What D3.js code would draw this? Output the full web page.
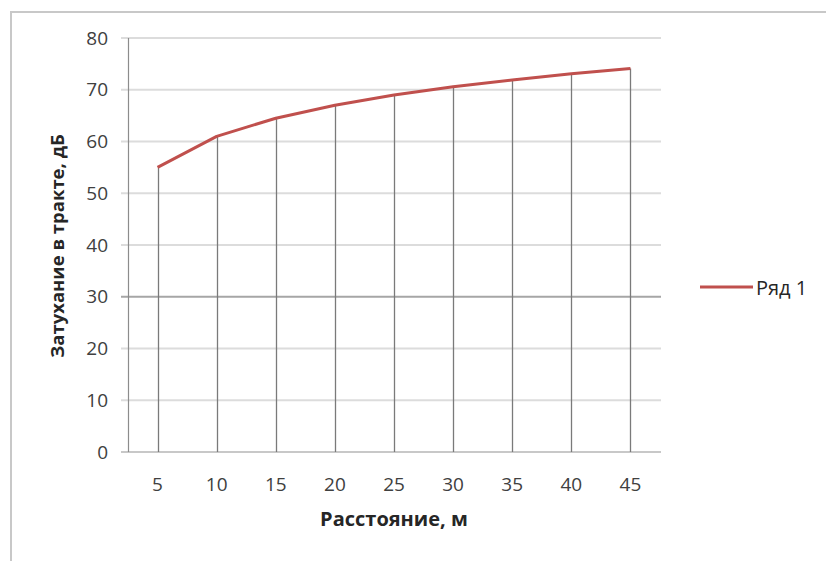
<!DOCTYPE html>
<html><head><meta charset="utf-8">
<script src="https://cdn.jsdelivr.net/npm/d3@7"></script>
<style>body{margin:0;background:#fff}svg{display:block}text{font-family:"Open Sans","Liberation Sans",sans-serif}</style>
</head><body>
<script>
const categories = ["5","10","15","20","25","30","35","40","45"];
const values = [55, 61, 64.5, 67, 69, 70.6, 71.9, 73.1, 74.1];
const yTicks = [0,10,20,30,40,50,60,70,80];
const seriesName = "Ряд 1";
const xTitle = "Расстояние, м";
const yTitle = "Затухание в тракте, дБ";

const W = 826, H = 561;
const svg = d3.select("body").append("svg").attr("width", W).attr("height", H);
// outer frame
svg.append("path").attr("d", `M11,561 V12 H826`).attr("fill","none").attr("stroke","#c8c8c8").attr("stroke-width",2);

const x = d3.scaleBand().domain(categories).range([128, 660]);
const y = d3.scaleLinear().domain([0, 80]).range([452, 38]);

// gridlines
svg.append("g").selectAll("line").data(yTicks).join("line")
  .attr("x1", 121).attr("x2", 661)
  .attr("y1", d => y(d)).attr("y2", d => y(d))
  .attr("stroke", d => d === 30 ? "#a6a6a6" : (d === 0 ? "#c8c8c8" : "#dcdcdc"))
  .attr("stroke-width", 2);

// y axis line
svg.append("line").attr("x1",128.5).attr("x2",128.5).attr("y1",y(80)).attr("y2",y(0)).attr("stroke","#8c8c8c").attr("stroke-width",1.2);

// y tick labels
svg.append("g").selectAll("text").data(yTicks).join("text")
  .attr("x", 108).attr("y", d => y(d)).attr("dy","0.35em")
  .attr("text-anchor","end").attr("font-size",19).attr("fill","#404040").text(d => d);

// x tick labels
svg.append("g").selectAll("text").data(categories).join("text")
  .attr("x", d => x(d) + x.bandwidth()/2).attr("y", 491)
  .attr("text-anchor","middle").attr("font-size",19).attr("fill","#404040").text(d => d);

// drop lines
svg.append("g").selectAll("line").data(values).join("line")
  .attr("x1",(d,i)=>Math.round(x(categories[i]) + x.bandwidth()/2)+0.5)
  .attr("x2",(d,i)=>Math.round(x(categories[i]) + x.bandwidth()/2)+0.5)
  .attr("y1", d => y(d)).attr("y2", y(0))
  .attr("stroke","#7a7a7a").attr("stroke-width",1.3);

// series line
const line = d3.line().x((d,i)=>x(categories[i]) + x.bandwidth()/2).y(d=>y(d));
svg.append("path").datum(values).attr("d", line).attr("fill","none")
  .attr("stroke","#c0504d").attr("stroke-width",3).attr("stroke-linejoin","round");

// titles
svg.append("text").attr("x", 394).attr("y", 526).attr("text-anchor","middle")
  .attr("font-size",20).attr("font-weight","bold").attr("fill","#262626").text(xTitle);
svg.append("text").attr("transform","translate(64,246) rotate(-90)").attr("text-anchor","middle")
  .attr("font-size",18.5).attr("font-weight","bold").attr("fill","#262626").text(yTitle);

// legend
svg.append("line").attr("x1",700).attr("x2",753).attr("y1",287).attr("y2",287)
  .attr("stroke","#c0504d").attr("stroke-width",3);
svg.append("text").attr("x",756).attr("y",288).attr("dy","0.35em").attr("font-size",20)
  .attr("fill","#262626").text(seriesName);
</script>
</body></html>
